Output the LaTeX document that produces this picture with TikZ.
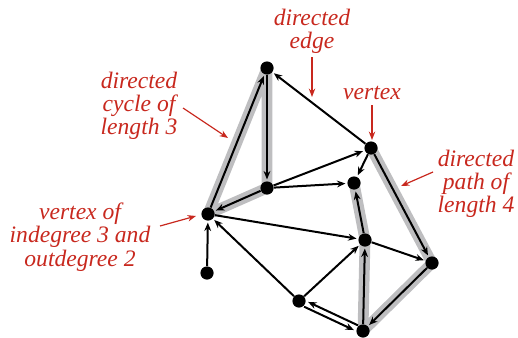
\documentclass[tikz,border=0pt]{standalone}
\usepackage{fontspec}
\setmainfont{Liberation Serif}
\usetikzlibrary{arrows.meta,backgrounds}
\definecolor{labred}{RGB}{200,40,30}
\definecolor{shadegray}{RGB}{190,190,192}
\tikzset{
  dot/.style={circle,fill=black,inner sep=0pt,minimum size=6.6pt},
  edge/.style={line width=1pt,-{Stealth[length=4.2pt,width=3.4pt]},shorten >=0.8pt},
  hilite/.style={line width=5.4pt,shadegray,line cap=round,line join=round},
  lab/.style={text=labred,font=\fontsize{11.8}{11.6}\selectfont\itshape,align=center,inner sep=0pt},
  labarrow/.style={labred,line width=0.6pt,-{Stealth[length=4.2pt,width=3.2pt]}}
}
\begin{document}
\begin{tikzpicture}[x=0.5pt,y=-0.5pt]
\useasboundingbox (0,0) rectangle (518,337);
% vertices
\node[dot] (A) at (267,68) {};
\node[dot] (B) at (371,148) {};
\node[dot] (C) at (267,188) {};
\node[dot] (D) at (354,183) {};
\node[dot] (E) at (208,214) {};
\node[dot] (F) at (207,273) {};
\node[dot] (G) at (365,240) {};
\node[dot] (H) at (432,263) {};
\node[dot] (I) at (299,301) {};
\node[dot] (J) at (363,331) {};
% highlights
\begin{pgfonlayer}{background}
\draw[hilite] (A.center) -- (C.center) -- (E.center) -- cycle;
\draw[hilite] (B.center) -- (H.center) -- (J.center) -- (G.center) -- (D.center);
\end{pgfonlayer}
% edges
\draw[edge] (A) -- (C);
\draw[edge] (C) -- (E);
\draw[edge] (E) -- (A);
\draw[edge] (B) -- (A);
\draw[edge] (C) -- (B);
\draw[edge] (C) -- (D);
\draw[edge] (B) -- (D);
\draw[edge] (B) -- (H);
\draw[edge] (H) -- (J);
\draw[edge] (J) -- (G);
\draw[edge] (G) -- (D);
\draw[edge] (G) -- (H);
\draw[edge] (E) -- (G);
\draw[edge] (F) -- (E);
\draw[edge] (I) -- (E);
\draw[edge] (I) -- (G);
\draw[edge,transform canvas={xshift=0.65pt,yshift=1.35pt}] (J) -- (I);
\draw[edge,transform canvas={xshift=-0.65pt,yshift=-1.35pt}] (I) -- (J);
% labels
\node[lab] (l1) at (312,31) {directed\\edge};
\coordinate (l1a) at (312,57);
\coordinate (l1b) at (312,97);
\draw[labarrow] (l1a) -- (l1b);
\node[lab] (l2) at (372,93) {vertex};
\coordinate (l2a) at (372,105);
\coordinate (l2b) at (372,140);
\draw[labarrow] (l2a) -- (l2b);
\node[lab] (l3) at (139,106) {directed\\cycle of\\length 3};
\coordinate (l3a) at (183,108);
\coordinate (l3b) at (228,138);
\draw[labarrow] (l3a) -- (l3b);
\node[lab] (l4) at (476,184) {directed\\path of\\length 4};
\coordinate (l4a) at (433,172);
\coordinate (l4b) at (401,186);
\draw[labarrow] (l4a) -- (l4b);
\node[lab] (l5) at (80,237) {vertex of\\indegree 3 and\\outdegree 2};
\coordinate (l5a) at (160,226);
\coordinate (l5b) at (196,216);
\draw[labarrow] (l5a) -- (l5b);
\end{tikzpicture}
\end{document}
